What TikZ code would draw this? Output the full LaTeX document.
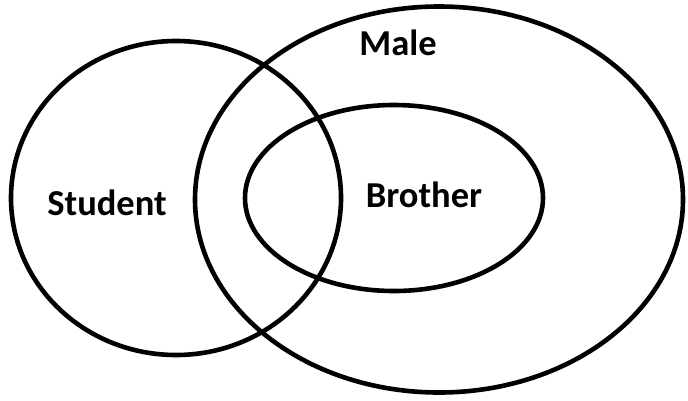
\documentclass[tikz,border=0pt]{standalone}
\usepackage{fontspec}
\setmainfont{Carlito}
\begin{document}
\begin{tikzpicture}[x=1pt,y=-1pt,
  setline/.style={draw=black,line width=4.6pt},
  lbl/.style={font=\fontsize{36.5}{40}\selectfont\bfseries,inner sep=0pt,anchor=base}]
\useasboundingbox (0,0) rectangle (688,400);
\draw[setline] (176,198) ellipse [x radius=165, y radius=157];
\draw[setline] (439,199.5) ellipse [x radius=244, y radius=193];
\draw[setline] (394,198) ellipse [x radius=149, y radius=93];
\node[lbl] (student) at (107,215) {Student};
\node[lbl] (male) at (398,55) {Male};
\node[lbl] (brother) at (424,207) {Brother};
\end{tikzpicture}
\end{document}
